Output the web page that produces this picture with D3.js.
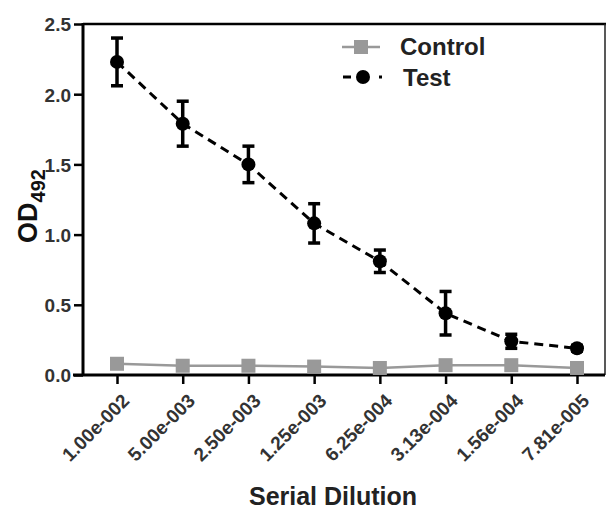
<!DOCTYPE html>
<html>
<head>
<meta charset="utf-8">
<script src="https://cdn.jsdelivr.net/npm/d3@7"></script>
<style>
  body { margin: 0; background: #fff; }
  svg text { font-family: Arial, "Liberation Sans", sans-serif; font-weight: bold; }
</style>
</head>
<body>
<svg id="chart" width="610" height="510"></svg>
<script>
// chart data
var dilutions = ["1.00e-002", "5.00e-003", "2.50e-003", "1.25e-003", "6.25e-004", "3.13e-004", "1.56e-004", "7.81e-005"];
var controlMean = [0.08, 0.066, 0.066, 0.06, 0.05, 0.07, 0.07, 0.05];
var testMean = [2.23, 1.79, 1.50, 1.08, 0.81, 0.44, 0.24, 0.19];
var testErr = [0.17, 0.16, 0.13, 0.14, 0.08, 0.155, 0.05, 0.02];
var yTicks = [0, 0.5, 1.0, 1.5, 2.0, 2.5];

var svg = d3.select("#chart");
var pLeft = 83, pRight = 605, pTop = 24, pBottom = 375;

var x = d3.scalePoint().domain(dilutions).range([117, 577]);
var y = d3.scaleLinear().domain([0, 2.5]).range([pBottom, pTop]);

// frame (top and right)
svg.append("line").attr("x1", pLeft).attr("x2", pRight + 1).attr("y1", pTop).attr("y2", pTop)
    .attr("stroke", "#000").attr("stroke-width", 2.5);
svg.append("line").attr("x1", pRight).attr("x2", pRight).attr("y1", pTop).attr("y2", pBottom)
    .attr("stroke", "#222").attr("stroke-width", 1.5);

// y axis
var gy = svg.append("g").attr("transform", "translate(" + pLeft + ",0)")
    .call(d3.axisLeft(y).tickValues(yTicks).tickFormat(d3.format(".1f")).tickSize(9).tickPadding(2));
gy.select(".domain").attr("stroke-width", 3).attr("d", "M0," + (pTop - 1) + "V" + (pBottom + 1));
gy.selectAll(".tick line").attr("stroke-width", 2.5);
gy.selectAll(".tick text").remove();
gy.selectAll(".tick").append("text")
    .attr("x", -12).attr("dy", "0.36em").attr("text-anchor", "end")
    .style("font-size", "19px").attr("fill", "#333")
    .text(function(d) { return d3.format(".1f")(d); });

// x axis
var gx = svg.append("g").attr("transform", "translate(0," + pBottom + ")")
    .call(d3.axisBottom(x).tickSize(9));
gx.select(".domain").attr("stroke-width", 3).attr("d", "M" + (pLeft - 10) + ",0H" + pRight);
gx.selectAll(".tick line").attr("stroke-width", 2.5);
gx.selectAll(".tick text").remove();
gx.selectAll(".tick").append("text")
    .attr("text-anchor", "end").attr("fill", "#333")
    .style("font-size", "19px")
    .attr("transform", "translate(13,27) rotate(-45)")
    .text(function(d) { return d; });

// control series
var lineC = d3.line().x(function(d, i) { return x(dilutions[i]); }).y(function(d) { return y(d); });
svg.append("path").datum(controlMean).attr("d", lineC).attr("fill", "none")
    .attr("stroke", "#999").attr("stroke-width", 2.5);
svg.selectAll(".ctl").data(controlMean).enter().append("rect").attr("class", "ctl")
    .attr("x", function(d, i) { return x(dilutions[i]) - 7; })
    .attr("y", function(d) { return y(d) - 7; })
    .attr("width", 14).attr("height", 14).attr("fill", "#999");

// test series
svg.append("path").datum(testMean).attr("d", lineC).attr("fill", "none")
    .attr("stroke", "#000").attr("stroke-width", 3).attr("stroke-dasharray", "9,6");
var eb = svg.selectAll(".eb").data(testMean).enter().append("g").attr("class", "eb");
eb.append("line")
    .attr("x1", function(d, i) { return x(dilutions[i]); })
    .attr("x2", function(d, i) { return x(dilutions[i]); })
    .attr("y1", function(d, i) { return y(d + testErr[i]); })
    .attr("y2", function(d, i) { return y(d - testErr[i]); })
    .attr("stroke", "#000").attr("stroke-width", 3.5);
[1, -1].forEach(function(s) {
  eb.append("line")
      .attr("x1", function(d, i) { return x(dilutions[i]) - 6; })
      .attr("x2", function(d, i) { return x(dilutions[i]) + 6; })
      .attr("y1", function(d, i) { return y(d + s * testErr[i]); })
      .attr("y2", function(d, i) { return y(d + s * testErr[i]); })
      .attr("stroke", "#000").attr("stroke-width", 3.5);
});
eb.append("circle")
    .attr("cx", function(d, i) { return x(dilutions[i]); })
    .attr("cy", function(d) { return y(d); })
    .attr("r", 7).attr("fill", "#000");

// legend
var lg = svg.append("g");
lg.append("line").attr("x1", 342).attr("x2", 380).attr("y1", 47).attr("y2", 47)
    .attr("stroke", "#999").attr("stroke-width", 2.5);
lg.append("rect").attr("x", 354).attr("y", 40).attr("width", 14).attr("height", 14).attr("fill", "#999");
lg.append("text").attr("x", 400).attr("y", 55).style("font-size", "24px").attr("fill", "#222").text("Control");
lg.append("line").attr("x1", 343).attr("x2", 382).attr("y1", 77).attr("y2", 77)
    .attr("stroke", "#000").attr("stroke-width", 3).attr("stroke-dasharray", "8,10,8,10,3");
lg.append("circle").attr("cx", 363).attr("cy", 77).attr("r", 7).attr("fill", "#000");
lg.append("text").attr("x", 403).attr("y", 86).style("font-size", "24px").attr("fill", "#222").text("Test");

// axis titles
svg.append("text").attr("x", 333).attr("y", 505).attr("text-anchor", "middle")
    .style("font-size", "25px").attr("fill", "#222").text("Serial Dilution");
var yt = svg.append("text").attr("transform", "translate(37,206) rotate(-90)")
    .attr("text-anchor", "middle").style("font-size", "27px").attr("fill", "#111");
yt.append("tspan").text("OD");
yt.append("tspan").style("font-size", "20px").attr("dy", 8).text("492");
</script>
</body>
</html>
